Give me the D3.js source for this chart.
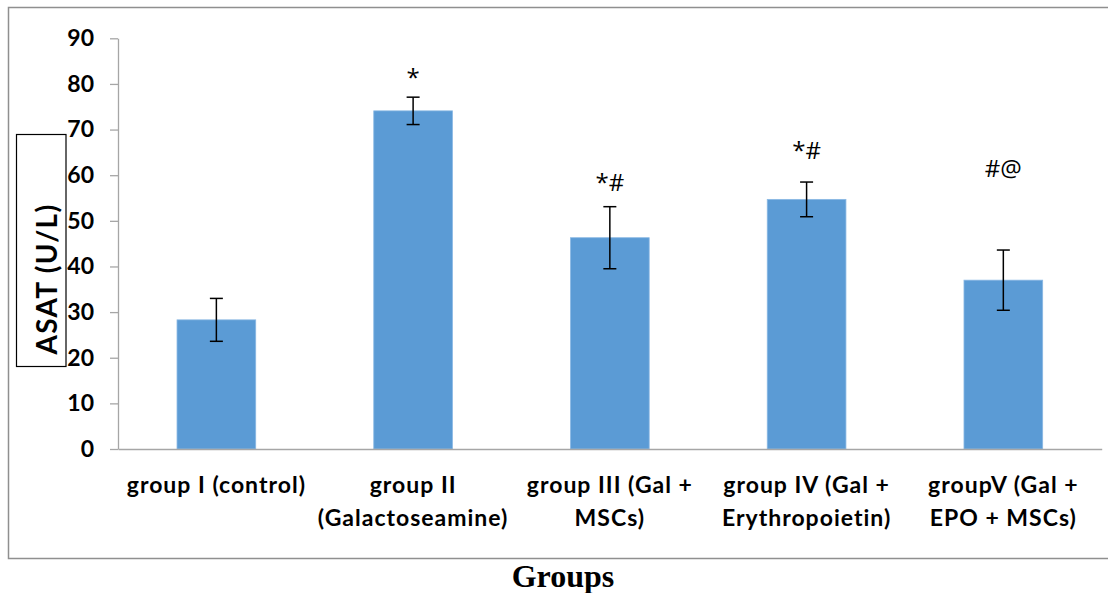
<!DOCTYPE html>
<html>
<head>
<meta charset="utf-8">
<script src="https://cdn.jsdelivr.net/npm/d3@7"></script>
<style>
  html, body { margin: 0; padding: 0; background: #ffffff; }
  svg { display: block; }
</style>
</head>
<body>
<svg id="chart" width="1108" height="593"></svg>
<script>
// ASAT levels per experimental group (mean ± SD)
const groups = [
  "group I (control)",
  "group II (Galactoseamine)",
  "group III (Gal + MSCs)",
  "group IV (Gal + Erythropoietin)",
  "groupV (Gal + EPO + MSCs)"
];
const groupLines = [
  ["group I (control)"],
  ["group II", "(Galactoseamine)"],
  ["group III (Gal +", "MSCs)"],
  ["group IV (Gal +", "Erythropoietin)"],
  ["groupV (Gal +", "EPO + MSCs)"]
];
const asatMean = [28.3, 74.1, 46.3, 54.7, 37.0];
const asatSD = [4.7, 3.0, 6.8, 3.8, 6.6];
const significance = ["", "*", "*#", "*#", "#@"];
const yTicks = [0, 10, 20, 30, 40, 50, 60, 70, 80, 90];
const yLabel = "ASAT (U/L)";
const xLabel = "Groups";

// layout
const sansFont = "Lato, 'Open Sans', sans-serif";
const markFont = "'Open Sans', Lato, sans-serif";
const serifFont = "'Liberation Serif', 'Times New Roman', serif";
const plot = { left: 118, right: 1101.7, top: 38.3, bottom: 449 };
// height (in U/L) at which each significance mark sits
const markLevel = [null, 79.6, 56.6, 63.5, 59.7];

const svg = d3.select("#chart");

// outer frame
svg.append("rect")
  .attr("x", 8.5).attr("y", 7.5)
  .attr("width", 1130).attr("height", 551)
  .attr("fill", "none")
  .attr("stroke", "#8f8f8f")
  .attr("stroke-width", 1.5);

const x = d3.scaleBand()
  .domain(groups)
  .range([plot.left, plot.right])
  .paddingInner(0.6)
  .paddingOuter(0.3);

const y = d3.scaleLinear()
  .domain([0, 90])
  .range([plot.bottom, plot.top]);

// bars
svg.append("g").selectAll("rect")
  .data(groups)
  .join("rect")
  .attr("x", d => x(d))
  .attr("y", (d, i) => y(asatMean[i]))
  .attr("width", x.bandwidth())
  .attr("height", (d, i) => y(0) - y(asatMean[i]))
  .attr("fill", "#5b9bd5")
  .attr("stroke", "#8ab8e4")
  .attr("stroke-width", 0.8);

// y axis
const yAxis = d3.axisLeft(y)
  .tickValues(yTicks)
  .tickSize(8)
  .tickSizeOuter(0)
  .tickPadding(16);
const gy = svg.append("g")
  .attr("transform", `translate(${plot.left},0)`)
  .call(yAxis);
gy.select(".domain").attr("stroke", "#a6a6a6").attr("stroke-width", 1.3);
gy.selectAll(".tick line").attr("stroke", "#a6a6a6").attr("stroke-width", 1.3);
gy.selectAll(".tick text")
  .attr("font-family", sansFont)
  .attr("font-weight", "bold")
  .attr("font-size", 23)
  .attr("fill", "#000");

// x axis baseline
const xAxis = d3.axisBottom(x).tickSize(0).tickFormat("");
const gx = svg.append("g")
  .attr("transform", `translate(0,${plot.bottom})`)
  .call(xAxis);
gx.select(".domain").attr("stroke", "#a6a6a6").attr("stroke-width", 1.3);

// category labels
const lab = svg.append("g")
  .attr("font-family", sansFont)
  .attr("font-weight", "bold")
  .attr("font-size", 23)
  .attr("letter-spacing", 1)
  .attr("fill", "#000")
  .attr("text-anchor", "middle");
groups.forEach((g, i) => {
  const cx = x(g) + x.bandwidth() / 2;
  groupLines[i].forEach((line, j) => {
    lab.append("text")
      .attr("x", cx)
      .attr("y", 493 + j * 33)
      .text(line);
  });
});

// error bars
const capHalf = 6.5;
const eb = svg.append("g")
  .attr("stroke", "#000")
  .attr("stroke-width", 1.5)
  .attr("fill", "none");
groups.forEach((g, i) => {
  const cx = x(g) + x.bandwidth() / 2;
  const hi = y(asatMean[i] + asatSD[i]);
  const lo = y(asatMean[i] - asatSD[i]);
  eb.append("line").attr("x1", cx).attr("x2", cx).attr("y1", hi).attr("y2", lo);
  eb.append("line").attr("x1", cx - capHalf).attr("x2", cx + capHalf).attr("y1", hi).attr("y2", hi);
  eb.append("line").attr("x1", cx - capHalf).attr("x2", cx + capHalf).attr("y1", lo).attr("y2", lo);
});

// significance marks
svg.append("g")
  .attr("font-family", markFont)
  .attr("font-size", 24)
  .attr("fill", "#000")
  .attr("text-anchor", "middle")
  .selectAll("text")
  .data(groups.filter((g, i) => significance[i]))
  .join("text")
  .attr("x", d => x(d) + x.bandwidth() / 2)
  .attr("y", d => y(markLevel[groups.indexOf(d)]))
  .text(d => significance[groups.indexOf(d)]);

// y axis title in its box
svg.append("rect")
  .attr("x", 16.5).attr("y", 134.5)
  .attr("width", 49.5).attr("height", 232)
  .attr("fill", "none")
  .attr("stroke", "#000")
  .attr("stroke-width", 1.2);
svg.append("text")
  .attr("transform", "translate(57,279) rotate(-90)")
  .attr("text-anchor", "middle")
  .attr("font-family", sansFont)
  .attr("font-weight", "bold")
  .attr("font-size", 28)
  .attr("letter-spacing", 1.3)
  .attr("fill", "#000")
  .text(yLabel);

// x axis title
svg.append("text")
  .attr("x", 563)
  .attr("y", 587)
  .attr("text-anchor", "middle")
  .attr("font-family", serifFont)
  .attr("font-weight", "bold")
  .attr("font-size", 32)
  .attr("fill", "#000")
  .text(xLabel);
</script>
</body>
</html>
